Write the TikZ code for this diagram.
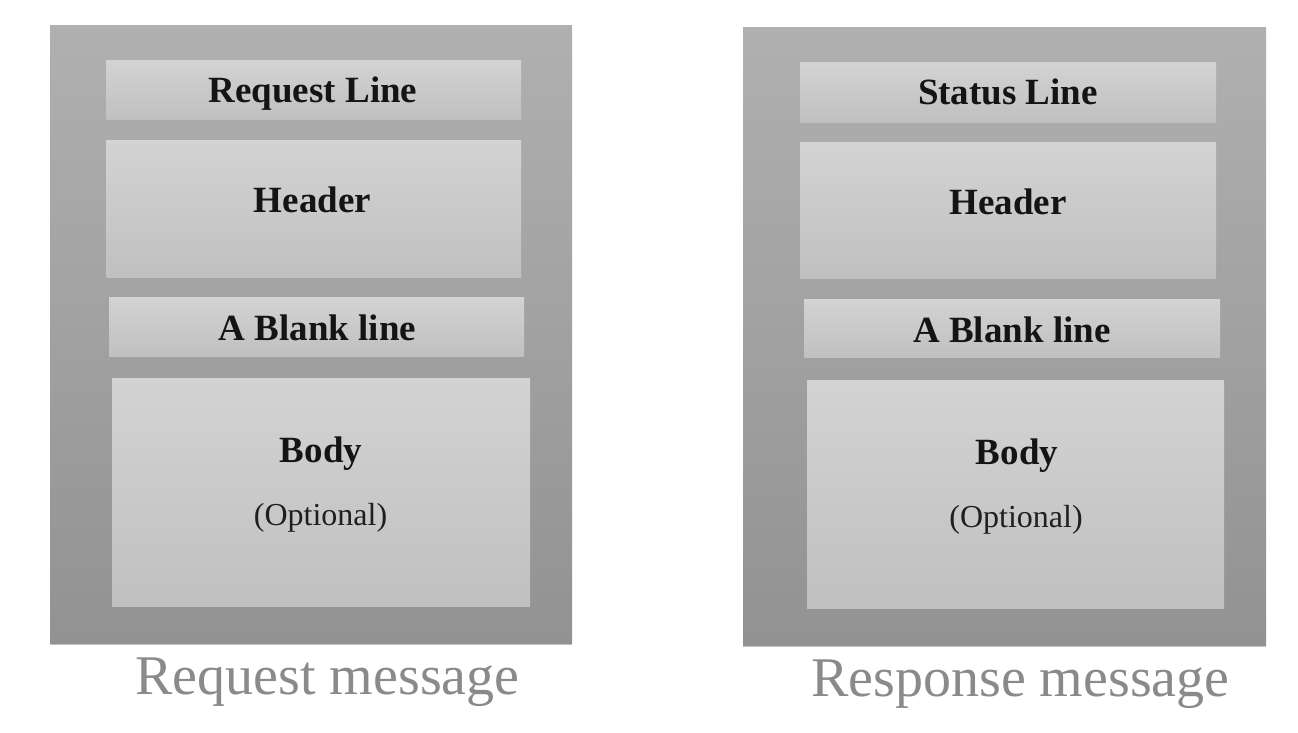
\documentclass[tikz,border=0pt]{standalone}
\usepackage{fontspec}
\setmainfont{Liberation Serif}
\usetikzlibrary{shadows}
\definecolor{outtop}{HTML}{B0B0B0}
\definecolor{outbot}{HTML}{929292}
\definecolor{intop}{HTML}{D3D3D3}
\definecolor{inbot}{HTML}{C0C0C0}
\definecolor{captxt}{HTML}{8A8A8A}
\begin{document}
\begin{tikzpicture}[x=1pt,y=-1pt,
  outerbox/.style={top color=outtop, bottom color=outbot, draw=none, inner sep=0pt, outer sep=0pt, anchor=north west,
    drop shadow={shadow xshift=0pt, shadow yshift=-2pt, opacity=0.4, fill=black!60}},
  innerbox/.style={top color=intop, bottom color=inbot, draw=none, inner sep=0pt, outer sep=0pt, anchor=north west},
  parttxt/.style={anchor=base, font=\fontsize{37}{42}\selectfont\bfseries, text=black!92},
  opttxt/.style={anchor=base, font=\fontsize{32}{38}\selectfont, text=black!88},
  captxt/.style={anchor=base, font=\fontsize{56}{62}\selectfont, text=captxt}]
\useasboundingbox (0,0) rectangle (1298,732);
\fill[white] (0,0) rectangle (1298,732);
% Request message
\node[outerbox, minimum width=522pt, minimum height=618pt] (reqbox) at (50,25) {};
\node[innerbox, minimum width=415pt, minimum height=59pt] (reqline) at (106,60) {};
\node[innerbox, minimum width=415pt, minimum height=137pt] (reqhead) at (106,140) {};
\node[innerbox, minimum width=415pt, minimum height=59pt] (reqblank) at (109,297) {};
\node[innerbox, minimum width=418pt, minimum height=228pt] (reqbody) at (112,378) {};
\node[parttxt] (t1) at (313,102) {Request Line};
\node[parttxt] (t2) at (312.5,212) {Header};
\node[parttxt] (t3) at (317.5,340) {A Blank line};
\node[parttxt] (t4) at (321,462) {Body};
\node[opttxt] (t5) at (320.5,525) {(Optional)};
\node[captxt] (reqcap) at (327.5,694) {Request message};
% Response message
\node[outerbox, minimum width=523pt, minimum height=618pt] (resbox) at (743,27) {};
\node[innerbox, minimum width=416pt, minimum height=60pt] (resline) at (800,62) {};
\node[innerbox, minimum width=416pt, minimum height=136pt] (reshead) at (800,142) {};
\node[innerbox, minimum width=416pt, minimum height=58pt] (resblank) at (804,299) {};
\node[innerbox, minimum width=417pt, minimum height=228pt] (resbody) at (807,380) {};
\node[parttxt] (u1) at (1008,104) {Status Line};
\node[parttxt] (u2) at (1008,214) {Header};
\node[parttxt] (u3) at (1012,342) {A Blank line};
\node[parttxt] (u4) at (1017,464) {Body};
\node[opttxt] (u5) at (1016,527) {(Optional)};
\node[captxt] (rescap) at (1020.5,696) {Response message};
\end{tikzpicture}
\end{document}
